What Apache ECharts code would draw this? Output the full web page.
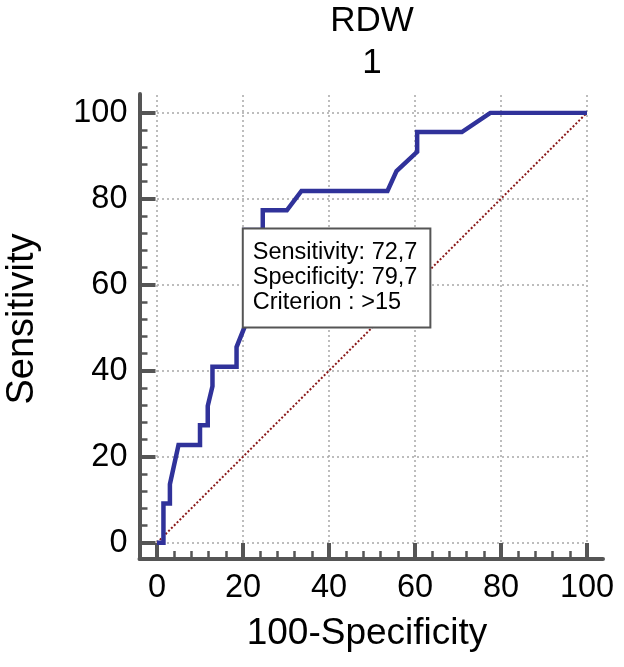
<!DOCTYPE html>
<html>
<head>
<meta charset="utf-8">
<script src="https://cdn.jsdelivr.net/npm/echarts@6/dist/echarts.min.js"></script>
<style>
html,body{margin:0;padding:0;background:#fff;}
#chart{width:624px;height:667px;}
</style>
</head>
<body>
<div id="chart"></div>
<script>
// ROC curve points: [100-Specificity, Sensitivity]
var rocX = [0, 1.5, 1.5, 3.0, 3.0, 5.0, 10.0, 10.0, 11.8, 11.8, 12.9, 12.9, 18.5, 18.5, 20.3, 20.3, 24.6, 24.6, 30.2, 33.6, 53.6, 55.7, 60.5, 60.5, 70.9, 77.6, 100];
var rocY = [0, 0, 9.1, 9.1, 13.6, 22.7, 22.7, 27.3, 27.3, 31.8, 36.4, 40.9, 40.9, 45.5, 50.0, 72.7, 72.7, 77.3, 77.3, 81.8, 81.8, 86.4, 90.9, 95.5, 95.5, 100, 100];
var refX = [0, 100];
var refY = [0, 100];
var criterionPoint = [20.3, 72.7];
var boxLines = ['Sensitivity: 72,7', 'Specificity: 79,7', 'Criterion : >15'];
var xTicks = [0, 20, 40, 60, 80, 100];
var yTicks = [0, 20, 40, 60, 80, 100];
var titleLines = ['RDW', '1'];
var xName = '100-Specificity';
var yName = 'Sensitivity';

var FONT = '"Liberation Sans", Arial, Helvetica, sans-serif';
var AX = '#555555';

function zip(a, b) { return a.map(function (v, i) { return [v, b[i]]; }); }

var chart = echarts.init(document.getElementById('chart'), null, {renderer: 'canvas'});

var option = {
  animation: false,
  backgroundColor: '#ffffff',
  grid: [
    {left: 157, top: 112.7, width: 430, height: 430},
    {left: 157, top: 95, width: 430, height: 450},
    {left: 139.5, top: 94, width: 463.5, height: 465}
  ],
  xAxis: [
    {
      gridIndex: 0, type: 'value', min: xTicks[0], max: xTicks[xTicks.length - 1], interval: 20,
      offset: 16.3,
      axisLine: {show: false, onZero: false},
      axisTick: {show: true, inside: true, length: 16, lineStyle: {color: AX, width: 4}},
      minorTick: {show: true, splitNumber: 5, length: 8, lineStyle: {color: AX, width: 2.5}},
      axisLabel: {fontSize: 32.5, fontFamily: FONT, color: '#000', margin: 13},
      splitLine: {show: false}
    },
    {
      gridIndex: 1, type: 'value', min: 0, max: 100, interval: 20,
      axisLine: {show: false, onZero: false}, axisTick: {show: false}, axisLabel: {show: false},
      splitLine: {show: true, lineStyle: {color: '#a8a8a8', width: 1.5, type: [2, 3]}}
    },
    {
      gridIndex: 2, type: 'value', min: 0, max: 1,
      axisLine: {show: true, onZero: false, lineStyle: {color: AX, width: 4}},
      axisTick: {show: false}, axisLabel: {show: false}, splitLine: {show: false}
    }
  ],
  yAxis: [
    {
      gridIndex: 0, type: 'value', min: yTicks[0], max: yTicks[yTicks.length - 1], interval: 20,
      offset: 17.5,
      axisLine: {show: false, onZero: false},
      axisTick: {show: true, inside: true, length: 16, lineStyle: {color: AX, width: 4}},
      minorTick: {show: true, splitNumber: 5, length: 8, lineStyle: {color: AX, width: 2.5}},
      axisLabel: {fontSize: 32.5, fontFamily: FONT, color: '#000', margin: 12},
      splitLine: {show: true, lineStyle: {color: '#a8a8a8', width: 1.5, type: [2, 3]}}
    },
    {
      gridIndex: 1, type: 'value', min: 0, max: 1, show: false
    },
    {
      gridIndex: 2, type: 'value', min: 0, max: 1,
      axisLine: {show: true, onZero: false, lineStyle: {color: AX, width: 4}},
      axisTick: {show: false}, axisLabel: {show: false}, splitLine: {show: false}
    }
  ],
  series: [
    {
      type: 'line', xAxisIndex: 0, yAxisIndex: 0,
      data: zip(refX, refY), symbol: 'none', z: 3,
      lineStyle: {color: '#8b1a1a', width: 2, type: [2, 2]}
    },
    {
      type: 'line', xAxisIndex: 0, yAxisIndex: 0,
      data: zip(rocX, rocY), symbol: 'none', z: 4,
      lineStyle: {color: '#30329a', width: 4.5, join: 'miter'}
    },
    {
      type: 'scatter', xAxisIndex: 0, yAxisIndex: 0, z: 6,
      data: [criterionPoint], symbolSize: 1,
      itemStyle: {color: 'rgba(0,0,0,0)', opacity: 1},
      emphasis: {disabled: true},
      label: {
        show: true, position: [0, 0], align: 'left', verticalAlign: 'top',
        formatter: function () { return boxLines.join('\n'); },
        fontSize: 23.5, lineHeight: 25, fontFamily: FONT, color: '#000', opacity: 1,
        backgroundColor: '#ffffff', borderColor: '#555555', borderWidth: 2,
        padding: [10, 12, 12, 9]
      }
    }
  ],
  graphic: [
    {type: 'text', x: 372, y: 21, style: {text: titleLines[0], fontSize: 35, fontFamily: FONT, fill: '#000', align: 'center', verticalAlign: 'middle'}},
    {type: 'text', x: 372, y: 63, style: {text: titleLines[1], fontSize: 35, fontFamily: FONT, fill: '#000', align: 'center', verticalAlign: 'middle'}},
    {type: 'text', x: 367, y: 634, style: {text: xName, fontSize: 37, fontFamily: FONT, fill: '#000', align: 'center', verticalAlign: 'middle'}},
    {type: 'text', x: 23, y: 319, rotation: Math.PI / 2, style: {text: yName, fontSize: 38, fontFamily: FONT, fill: '#000', align: 'center', verticalAlign: 'middle'}}
  ]
};
chart.setOption(option);
</script>
</body>
</html>
